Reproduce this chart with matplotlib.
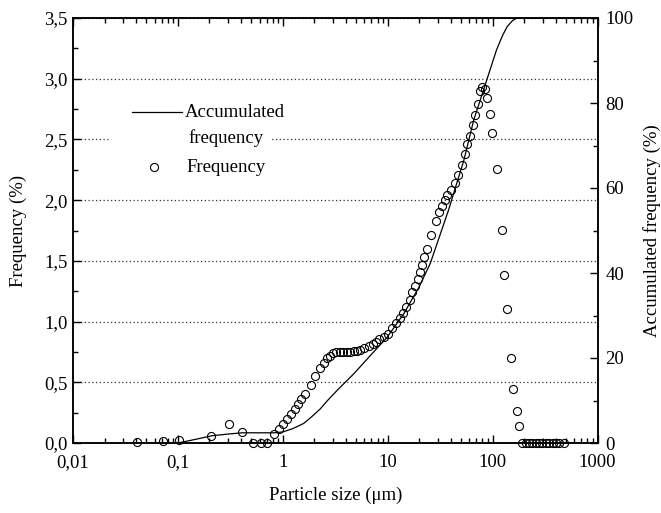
import matplotlib
matplotlib.use("Agg")
import matplotlib.pyplot as plt
from matplotlib.lines import Line2D
from matplotlib.patches import Rectangle
from matplotlib.ticker import LogLocator, NullFormatter, MultipleLocator

plt.rcParams['font.family'] = ['Liberation Serif', 'DejaVu Serif']

# ---------------- data ----------------
freq_x = [0.041, 0.072, 0.103, 0.206, 0.31, 0.41, 0.52, 0.62, 0.71,
          0.83, 0.91, 1.0, 1.1, 1.2, 1.3, 1.4, 1.5, 1.63, 1.85, 2.04, 2.25,
          2.45, 2.62, 2.84, 3.04, 3.25, 3.5, 3.77, 4.05, 4.4, 4.75, 5.1,
          5.5, 6.0, 6.6, 7.2, 7.7, 8.3, 9.2, 10.0, 11.0, 12.1, 13.0, 14.0,
          15.0, 16.2, 17.2, 18.2, 19.3, 20.3, 21.2, 22.4, 23.6, 25.6, 28.8,
          30.9, 33.1, 35.2, 37.1, 40.0, 43.6, 46.3, 50.8, 54.6, 57.3, 61.5,
          64.6, 68.7, 72.4, 76.0, 80.0, 84.0, 89.2, 94.4, 99.3, 110.9,
          122.9, 129.4, 138.0, 148.7, 157.6, 169.6, 179.8,
          192, 207, 223, 240, 258, 278, 299, 322, 347, 373, 402, 432, 482]
freq_y = [0.01, 0.015, 0.022, 0.06, 0.16, 0.09, 0.0, 0.0, 0.0,
          0.074, 0.115, 0.16, 0.20, 0.24, 0.28, 0.32, 0.36, 0.40, 0.48, 0.55,
          0.615, 0.66, 0.70, 0.72, 0.74, 0.747, 0.75, 0.75, 0.75, 0.75, 0.755,
          0.76, 0.77, 0.785, 0.80, 0.815, 0.835, 0.854, 0.875, 0.90, 0.945,
          0.985, 1.027, 1.07, 1.12, 1.18, 1.24, 1.29, 1.35, 1.41, 1.47, 1.53,
          1.60, 1.71, 1.83, 1.905, 1.95, 2.00, 2.04, 2.08, 2.14, 2.21, 2.29,
          2.38, 2.46, 2.53, 2.62, 2.70, 2.79, 2.90, 2.93, 2.915, 2.84, 2.71,
          2.555, 2.26, 1.755, 1.383, 1.106, 0.697, 0.442, 0.266, 0.143,
          0, 0, 0, 0, 0, 0, 0, 0, 0, 0, 0, 0, 0]

cum_x = [0.1, 0.15, 0.21, 0.3, 0.41, 0.6, 0.83, 1.0, 1.25, 1.58, 1.85, 2.27,
         2.67, 3.33, 4.8, 6.9, 9.9, 14.3, 20, 25.5, 38, 53.3, 66.1, 89, 109,
         125, 138, 155, 171, 1000]
cum_y = [0, 0.9, 1.7, 2.1, 2.4, 2.4, 2.4, 2.6, 3.4, 4.6, 6.0, 8.0, 10.0,
         12.5, 16.4, 20.7, 24.9, 30.5, 36.8, 42.3, 54.8, 66.6, 76.0, 85.8,
         92.5, 96, 98, 99.4, 100, 100]

x_ticks = [0.01, 0.1, 1, 10, 100, 1000]
x_ticklabels = ['0,01', '0,1', '1', '10', '100', '1000']
y_ticks = [0, 0.5, 1.0, 1.5, 2.0, 2.5, 3.0, 3.5]
y_ticklabels = ['0,0', '0,5', '1,0', '1,5', '2,0', '2,5', '3,0', '3,5']
y2_ticks = [0, 20, 40, 60, 80, 100]

FS = 13.5

fig = plt.figure(figsize=(6.61, 5.13), dpi=100)
ax = fig.add_axes([73/661, 70/513, 524.5/661, 425/513])
ax.set_xscale('log')
ax.set_xlim(0.01, 1000)
ax.set_ylim(0, 3.5)

ax.set_xticks(x_ticks)
ax.set_xticklabels(x_ticklabels, fontsize=FS)
ax.xaxis.set_minor_locator(LogLocator(base=10, subs=range(2, 10), numticks=20))
ax.xaxis.set_minor_formatter(NullFormatter())
ax.set_yticks(y_ticks)
ax.set_yticklabels(y_ticklabels, fontsize=FS)
ax.yaxis.set_minor_locator(MultipleLocator(0.25))

ax.tick_params(axis='x', which='both', direction='in', top=True, bottom=True, pad=8)
ax.tick_params(axis='y', which='both', direction='in', left=True, right=False, pad=4)
ax.tick_params(which='major', length=6, width=1.0)
ax.tick_params(which='minor', length=3.5, width=1.0)

ax.yaxis.grid(True, which='major', linestyle=(0, (1, 2)), color='#333333', linewidth=0.9)
ax.set_axisbelow(True)

for s in ax.spines.values():
    s.set_linewidth(1.1)

ax.plot(freq_x, freq_y, linestyle='none', marker='o', markersize=5.8,
        markerfacecolor='none', markeredgecolor='black', markeredgewidth=0.8,
        zorder=5, clip_on=False)

ax2 = ax.twinx()
ax2.set_ylim(0, 100)
ax2.set_yticks(y2_ticks)
ax2.set_yticklabels([str(v) for v in y2_ticks], fontsize=FS)
ax2.yaxis.set_minor_locator(MultipleLocator(10))
ax2.tick_params(axis='y', which='both', direction='in', pad=5.5)
ax2.tick_params(which='major', length=6, width=1.0)
ax2.tick_params(which='minor', length=3.5, width=1.0)
for s in ax2.spines.values():
    s.set_linewidth(1.1)
ax2.plot(cum_x, cum_y, color='black', linewidth=0.9, zorder=4)

ax.set_xlabel('Particle size (μm)', fontsize=FS)
ax.xaxis.set_label_coords(0.5, -0.103)
ax.set_ylabel('Frequency (%)', fontsize=FS)
ax.yaxis.set_label_coords(-0.088, 0.5)
ax2.set_ylabel('Accumulated frequency (%)', fontsize=FS)
ax2.yaxis.set_label_coords(1.086, 0.5)

# ---------------- legend (manual, no frame) ----------------
ax.add_patch(Rectangle((0.068, 0.62), 0.31, 0.19, transform=ax.transAxes,
                       facecolor='white', edgecolor='none', zorder=2))
ax.add_line(Line2D([0.112, 0.2075], [0.7788, 0.7788], transform=ax.transAxes,
                   color='black', linewidth=0.9, zorder=6))
ax.text(0.2137, 0.7788, 'Accumulated', transform=ax.transAxes, fontsize=FS,
        ha='left', va='center', zorder=6)
ax.text(0.2195, 0.7176, 'frequency', transform=ax.transAxes, fontsize=FS,
        ha='left', va='center', zorder=6)
ax.add_line(Line2D([0.1546], [0.6494], transform=ax.transAxes, linestyle='none',
                   marker='o', markersize=5.8, markerfacecolor='none',
                   markeredgecolor='black', markeredgewidth=0.8, zorder=6))
ax.text(0.2156, 0.6494, 'Frequency', transform=ax.transAxes, fontsize=FS,
        ha='left', va='center', zorder=6)

fig.savefig('out.png', dpi=100)
